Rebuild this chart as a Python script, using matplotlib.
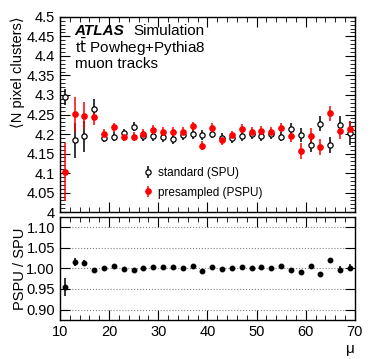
import matplotlib
matplotlib.use("Agg")
import matplotlib.pyplot as plt
from matplotlib.ticker import MultipleLocator, FormatStrFormatter

plt.rcParams['font.family'] = ['Liberation Sans', 'DejaVu Sans']

mu = [11, 13, 15, 17, 19, 21, 23, 25, 27, 29, 31, 33, 35, 37, 39,
      41, 43, 45, 47, 49, 51, 53, 55, 57, 59, 61, 63, 65, 67, 69]

spu = [4.295, 4.184, 4.194, 4.264, 4.191, 4.193, 4.202, 4.219, 4.195, 4.195,
       4.192, 4.187, 4.197, 4.200, 4.198, 4.201, 4.190, 4.190, 4.195, 4.200,
       4.195, 4.200, 4.193, 4.214, 4.198, 4.171, 4.227, 4.172, 4.223, 4.203]
spu_err = [0.02, 0.045, 0.04, 0.025, 0.012, 0.012, 0.012, 0.012, 0.012, 0.012,
           0.012, 0.012, 0.012, 0.012, 0.012, 0.012, 0.012, 0.012, 0.012, 0.012,
           0.012, 0.012, 0.012, 0.015, 0.018, 0.018, 0.02, 0.02, 0.022, 0.03]

pspu = [4.103, 4.251, 4.247, 4.243, 4.201, 4.217, 4.193, 4.193, 4.200, 4.211,
        4.206, 4.206, 4.206, 4.220, 4.170, 4.216, 4.184, 4.197, 4.213, 4.206,
        4.209, 4.206, 4.216, 4.195, 4.157, 4.195, 4.167, 4.253, 4.208, 4.214]
pspu_err = [0.075, 0.045, 0.035, 0.02, 0.012, 0.012, 0.012, 0.012, 0.012, 0.012,
            0.012, 0.012, 0.012, 0.012, 0.012, 0.012, 0.012, 0.012, 0.012, 0.012,
            0.012, 0.012, 0.012, 0.015, 0.02, 0.02, 0.02, 0.02, 0.02, 0.02]

ratio = [0.954, 1.015, 1.013, 0.995, 1.001, 1.006, 0.998, 0.995, 1.001, 1.003,
         1.003, 1.004, 1.002, 1.005, 0.994, 1.003, 0.999, 1.002, 1.004, 1.002,
         1.004, 1.002, 1.006, 0.997, 0.990, 1.006, 0.986, 1.020, 0.997, 1.002]
ratio_err = [0.022, 0.01, 0.008, 0.005, 0.004, 0.004, 0.004, 0.004, 0.004, 0.004,
             0.004, 0.004, 0.004, 0.004, 0.004, 0.004, 0.004, 0.004, 0.004, 0.004,
             0.004, 0.004, 0.004, 0.005, 0.005, 0.005, 0.005, 0.006, 0.008, 0.008]

fig = plt.figure(figsize=(3.74, 3.59), dpi=100)
ax1 = fig.add_axes([0.160, 0.409, 0.789, 0.544])
ax2 = fig.add_axes([0.160, 0.109, 0.789, 0.287])

ax1.errorbar(mu, spu, yerr=spu_err, fmt='o', color='black', mfc='white',
             mec='black', ms=3.8, mew=0.9, elinewidth=1.1, capsize=0,
             label='standard (SPU)')
ax1.errorbar(mu, pspu, yerr=pspu_err, fmt='o', color='red', ms=3.8,
             elinewidth=1.1, capsize=0, label='presampled (PSPU)')

ax1.set_xlim(10, 70)
ax1.set_ylim(4.0, 4.5)
ax1.yaxis.set_major_locator(MultipleLocator(0.05))
ax1.yaxis.set_minor_locator(MultipleLocator(0.01))
ax1.yaxis.set_major_formatter(FormatStrFormatter('%g'))
ax1.xaxis.set_major_locator(MultipleLocator(10))
ax1.xaxis.set_minor_locator(MultipleLocator(2))
ax1.tick_params(labelbottom=False)
ax1.set_ylabel('⟨N pixel clusters⟩', fontsize=10.5, loc='top')
ax1.yaxis.set_label_coords(-0.118, 1.0)

ax1.text(0.05, 0.93, 'ATLAS', transform=ax1.transAxes, fontsize=11,
         fontweight='bold', fontstyle='italic', va='center')
ax1.text(0.25, 0.93, 'Simulation', transform=ax1.transAxes, fontsize=11,
         va='center')
ax1.text(0.05, 0.845, r't$\bar{\mathrm{t}}$ Powheg+Pythia8',
         transform=ax1.transAxes, fontsize=11, va='center')
ax1.text(0.05, 0.76, 'muon tracks', transform=ax1.transAxes, fontsize=11,
         va='center')

ax1.legend(loc='lower left', bbox_to_anchor=(0.24, 0.015), frameon=False,
           fontsize=8.5, handletextpad=0.2, handlelength=1.2,
           labelspacing=0.65)

ax2.errorbar(mu, ratio, yerr=ratio_err, fmt='o', color='black', ms=3.2,
             elinewidth=1.1, capsize=0)
ax2.set_xlim(10, 70)
ax2.set_ylim(0.875, 1.125)
ax2.yaxis.set_major_locator(MultipleLocator(0.05))
ax2.yaxis.set_major_formatter(FormatStrFormatter('%.2f'))
ax2.xaxis.set_major_locator(MultipleLocator(10))
ax2.xaxis.set_minor_locator(MultipleLocator(2))
ax2.grid(axis='y', linestyle=':', color='gray', linewidth=0.8)
ax2.set_ylabel('PSPU / SPU', fontsize=10.5)
ax2.yaxis.set_label_coords(-0.11, 0.5)
ax2.set_xlabel('μ', fontsize=11, loc='right', labelpad=2)

for ax in (ax1, ax2):
    ax.tick_params(which='both', direction='in', top=True, right=True,
                   labelsize=10.5)
    ax.tick_params(which='major', length=7)
    ax.tick_params(which='minor', length=3.5)
    for s in ax.spines.values():
        s.set_linewidth(1.0)

fig.savefig('out.png', dpi=100)
